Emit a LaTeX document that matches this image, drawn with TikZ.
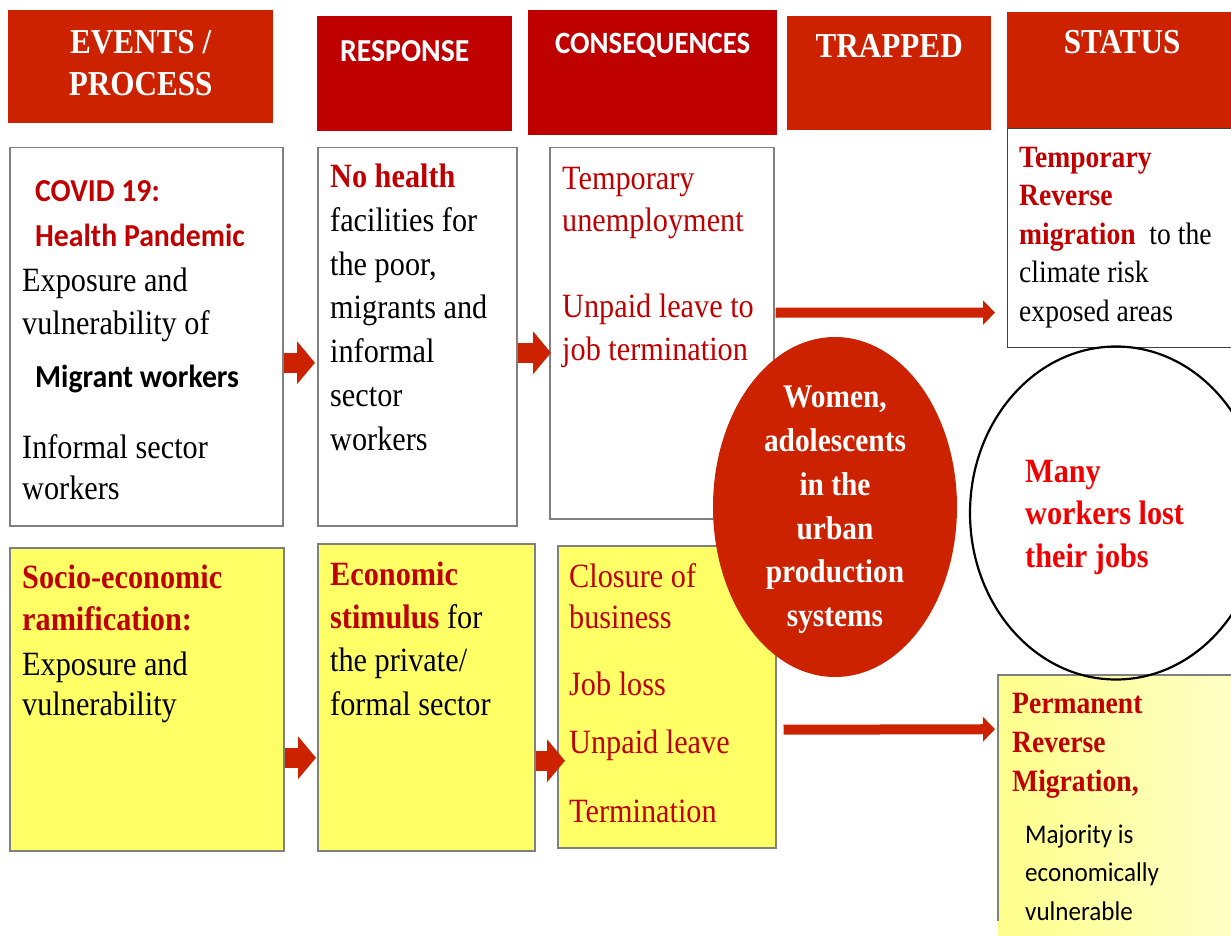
\documentclass[tikz,border=0pt]{standalone}
\usepackage{fontspec}
\setmainfont{Liberation Serif}[FakeStretch=0.89]
\newfontfamily\calibri{Carlito}[FakeStretch=0.93]
\usetikzlibrary{shapes.geometric, arrows.meta, positioning}

\definecolor{hdrorange}{HTML}{CC2200}
\definecolor{hdrred}{HTML}{BF0000}
\definecolor{txtred}{HTML}{C00000}
\definecolor{brightred}{HTML}{F00000}
\definecolor{boxyellow}{HTML}{FFFF66}
\definecolor{paleyellow}{HTML}{FFFF8C}
\definecolor{paleryellow}{HTML}{FFFFC8}
\definecolor{boxgray}{HTML}{808080}

\newcommand{\fsize}[2]{\fontsize{#1}{#2}\selectfont}
\newcommand{\redbf}[1]{{\color{txtred}\bfseries #1}}

\tikzstyle{header} = [rectangle, anchor=north west, inner sep=0pt]
\tikzstyle{title} = [text=white, inner sep=0pt, align=center]
\tikzstyle{box} = [rectangle, anchor=north west, inner sep=0pt, draw=boxgray, line width=1.5pt, fill=white]
\tikzstyle{ybox} = [box, fill=boxyellow]
% multi-line texts sit on the baseline of their last line
\tikzstyle{txt} = [anchor=base west, inner sep=0pt, align=left]
\tikzstyle{blockarrow} = [color=hdrorange, line width=20pt, -{Triangle[length=18pt, width=42pt]}]
\tikzstyle{longarrow} = [color=hdrorange, line width=10pt, -{Triangle[length=12pt, width=24pt]}]

\begin{document}
\begin{tikzpicture}[x=1pt, y=-1pt]
    \useasboundingbox (0,0) rectangle (1231,936);

    % column headers
    \node (evhdr) [header, fill=hdrorange, minimum width=265, minimum height=113] at (8,10) {};
    \node (resphdr) [header, fill=hdrred, minimum width=195, minimum height=115] at (317,16) {};
    \node (conshdr) [header, fill=hdrred, minimum width=249, minimum height=125] at (528,10) {};
    \node (traphdr) [header, fill=hdrorange, minimum width=204, minimum height=114] at (787,16) {};
    \node (stathdr) [header, fill=hdrorange, minimum width=240, minimum height=116] at (1007,12) {};
    \node (evtitle) [title, below=20pt of evhdr.north, font=\fsize{35}{42}\bfseries] {EVENTS /\\PROCESS};
    \node (resptitle) [title, below=24pt of resphdr.north, xshift=-10pt, font=\fsize{32}{36}\calibri\bfseries] {RESPONSE};
    \node (constitle) [title, below=23pt of conshdr.north, font=\fsize{31}{36}\calibri\bfseries] {CONSEQUENCES};
    \node (traptitle) [title, below=18pt of traphdr.north, font=\fsize{35}{42}\bfseries] {TRAPPED};
    \node (stattitle) [title, below=18pt of stathdr.north, xshift=-5pt, font=\fsize{35}{42}\bfseries] {STATUS};

    % health row
    \node (evtop) [box, minimum width=273, minimum height=378] at (9,147) {};
    \node (resptop) [box, minimum width=199, minimum height=378] at (317,147) {};
    \node (constop) [box, minimum width=224, minimum height=371] at (549,147) {};
    \node (stattop) [box, draw=black!75, line width=1.2pt, minimum width=240, minimum height=219] at (1007,128) {};

    % economic row
    \node (evbot) [ybox, minimum width=274, minimum height=303] at (9,547) {};
    \node (respbot) [ybox, minimum width=217, minimum height=307] at (317,543) {};
    \node (consbot) [ybox, minimum width=218, minimum height=302] at (557,545) {};
    \node (statbot) [header, left color=paleyellow, right color=paleryellow, minimum width=240, minimum height=270] at (998,675) {};
    \draw [boxgray, line width=1.5pt] (statbot.north east) -- (statbot.north west) -- ([yshift=24pt]statbot.south west);

    % texts of the health row
    \node (covidtxt) [txt, text=txtred, font=\fsize{32}{46}\calibri\bfseries] at (35,247) {COVID 19:\\Health Pandemic};
    \node (expotxt) [txt, font=\fsize{34}{43}] at (22,334) {Exposure and\\vulnerability of};
    \node (migtxt) [txt, font=\fsize{32}{46}\calibri\bfseries] at (35,387) {Migrant workers};
    \node (inftxt) [txt, font=\fsize{34}{41}] at (22,499) {Informal sector\\workers};
    \node (nohealthtxt) [txt, font=\fsize{34}{43.7}] at (330,450) {\redbf{No health}\\facilities for\\the poor,\\migrants and\\informal\\sector\\workers};
    \node (unemptxt) [txt, text=txtred, font=\fsize{34}{42}] at (562,231) {Temporary\\unemployment};
    \node (leavetxt) [txt, text=txtred, font=\fsize{34}{43}] at (562,360) {Unpaid leave to\\job termination};
    \node (temprevtxt) [txt, font=\fsize{31}{38.5}] at (1019,321) {\redbf{Temporary}\\\redbf{Reverse}\\\redbf{migration}~~to the\\climate risk\\exposed areas};

    % texts of the economic row
    \node (sociotxt) [txt, text=txtred, font=\fsize{34}{42}\bfseries] at (22,630) {Socio-economic\\ramification:};
    \node (expo2txt) [txt, font=\fsize{34}{40}] at (22,715) {Exposure and\\vulnerability};
    \node (stimtxt) [txt, font=\fsize{34}{43.3}] at (330,715) {\redbf{Economic}\\\redbf{stimulus} for\\the private/\\formal sector};
    \node (closuretxt) [txt, text=txtred, font=\fsize{34}{41}] at (569,628) {Closure of\\business};
    \node (joblosstxt) [txt, text=txtred, font=\fsize{34}{41}] at (569,695) {Job loss};
    \node (unpaidtxt) [txt, text=txtred, font=\fsize{34}{41}] at (569,753) {Unpaid leave};
    \node (termtxt) [txt, text=txtred, font=\fsize{34}{41}] at (569,822) {Termination};
    \node (permtxt) [txt, text=txtred, font=\fsize{31}{39}\bfseries] at (1012,791) {Permanent\\Reverse\\Migration,};
    \node (majtxt) [txt, font=\fsize{27}{38.5}\calibri] at (1025,920) {Majority is\\economically\\vulnerable};

    % trapped group and lost jobs
    \node (women) [ellipse, fill=hdrorange, minimum width=244, minimum height=340, inner sep=0pt] at (835,507) {};
    \node (womentxt) [title, font=\fsize{33}{43.8}\bfseries] at ([yshift=-3pt]women.center) {Women,\\adolescents\\in the\\urban\\production\\systems};
    \node (lost) [ellipse, draw=black, line width=2.2pt, minimum width=292, minimum height=333, inner sep=0pt] at (1116,513) {};
    \node (losttxt) [txt, text=brightred, font=\fsize{34}{42.5}\bfseries] at (1025,567) {Many\\workers lost\\their jobs};

    % arrows
    \draw [blockarrow, shorten >=2pt] ([yshift=-26pt]evtop.east) -- ([yshift=-26pt]resptop.west);
    \draw [blockarrow, shorten >=-2pt] ([yshift=-16pt]resptop.east) -- ([yshift=-19.5pt]constop.west);
    \draw [blockarrow, shorten >=1pt] ([yshift=-58.5pt]evbot.east) -- ([yshift=-60.5pt]respbot.west);
    \draw [blockarrow, shorten >=-8pt] ([yshift=-63.5pt]respbot.east) -- ([yshift=-64pt]consbot.west);
    \draw [longarrow, shorten <=1pt, shorten >=12pt] ([yshift=20.5pt]constop.east) -- ([yshift=-74.5pt]stattop.west);
    \draw [longarrow, shorten <=7pt, shorten >=3pt] ([yshift=-33pt]consbot.east) -- ([yshift=81pt]statbot.west);
\end{tikzpicture}
\end{document}
